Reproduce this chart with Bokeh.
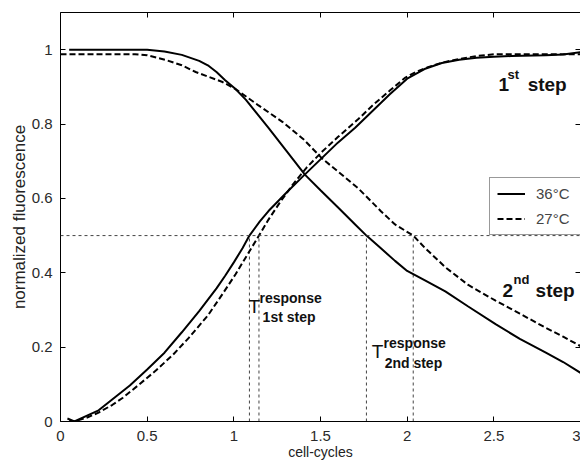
from bokeh.plotting import figure
from bokeh.models import Legend, LegendItem, LinearAxis, FixedTicker, Span, Range1d
from bokeh.core.properties import value
from bokeh.embed import file_html
from bokeh.resources import INLINE

# ---- data ----
# 1st step (rising) 36 C, solid
x_rise_36 = [0.04, 0.08, 0.15, 0.22, 0.30, 0.40, 0.50, 0.60, 0.70, 0.80, 0.90, 0.95, 1.00,
             1.05, 1.09, 1.15, 1.20, 1.30, 1.40, 1.50, 1.60, 1.70, 1.80, 1.90, 2.00, 2.10, 2.20,
             2.30, 2.40, 2.50, 2.60, 2.80, 2.90, 3.00]
y_rise_36 = [0.008, 0.0, 0.015, 0.03, 0.06, 0.097, 0.14, 0.185, 0.24, 0.297, 0.358, 0.392, 0.428,
             0.466, 0.50, 0.538, 0.566, 0.614, 0.66, 0.705, 0.75, 0.79, 0.835, 0.88, 0.922, 0.948,
             0.964, 0.973, 0.978, 0.981, 0.983, 0.985, 0.987, 0.993]
# 1st step (rising) 27 C, dashed
x_rise_27 = [0.05, 0.08, 0.15, 0.22, 0.30, 0.36, 0.45, 0.55, 0.65, 0.74, 0.85, 0.935, 1.01,
             1.08, 1.145, 1.20, 1.27, 1.34, 1.42, 1.51, 1.60, 1.72, 1.80, 1.90, 1.99, 2.05,
             2.12, 2.20, 2.30, 2.40, 2.51, 2.70, 3.00]
y_rise_27 = [0.002, 0.0, 0.01, 0.024, 0.045, 0.064, 0.098, 0.137, 0.18, 0.225, 0.285, 0.343, 0.396,
             0.45, 0.50, 0.543, 0.592, 0.637, 0.683, 0.726, 0.765, 0.814, 0.85, 0.89, 0.925, 0.94,
             0.953, 0.965, 0.975, 0.983, 0.988, 0.988, 0.988]
# 2nd step (falling) 36 C, solid
x_fall_36 = [0.05, 0.50, 0.60, 0.70, 0.80, 0.85, 0.90, 0.95, 1.01, 1.07, 1.20, 1.30, 1.41,
             1.50, 1.60, 1.70, 1.765, 1.85, 1.93, 2.00, 2.10, 2.22, 2.35, 2.51, 2.65,
             2.80, 2.90, 3.00]
y_fall_36 = [1.0, 1.0, 0.995, 0.986, 0.97, 0.958, 0.94, 0.918, 0.894, 0.865, 0.79, 0.73, 0.664,
             0.622, 0.576, 0.53, 0.50, 0.465, 0.432, 0.405, 0.38, 0.35, 0.31, 0.262, 0.222,
             0.185, 0.16, 0.131]
# 2nd step (falling) 27 C, dashed
x_fall_27 = [0.0, 0.43, 0.50, 0.61, 0.70, 0.78, 0.935, 1.01, 1.14, 1.28, 1.40, 1.51, 1.62,
             1.72, 1.85, 1.93, 2.035, 2.10, 2.22, 2.35, 2.51, 2.65, 2.80, 2.90, 3.00]
y_fall_27 = [0.988, 0.988, 0.985, 0.972, 0.958, 0.94, 0.913, 0.894, 0.851, 0.806, 0.76, 0.707, 0.665,
             0.626, 0.565, 0.53, 0.50, 0.468, 0.415, 0.368, 0.325, 0.29, 0.252, 0.228, 0.203]

half_level = 0.5
t_response = [1.09, 1.145, 1.765, 2.035]
x_ticks = [0, 0.5, 1, 1.5, 2, 2.5, 3]
y_ticks = [0, 0.2, 0.4, 0.6, 0.8, 1]
legend_labels = ["36°C", "27°C"]

FONT = "Liberation Sans"

p = figure(width=580, height=463, x_range=Range1d(0, 3), y_range=Range1d(0, 1.1),
           output_backend="svg", toolbar_location=None,
           min_border_left=60, min_border_right=0, min_border_top=12, min_border_bottom=42)
p.grid.visible = False
p.outline_line_color = None
p.background_fill_color = "white"
p.border_fill_color = "white"


def style_axis(ax, ticks, labels=True):
    ax.ticker = FixedTicker(ticks=ticks)
    ax.major_tick_in = 5
    ax.major_tick_out = 0
    ax.minor_tick_line_color = None
    ax.axis_line_color = "black"
    ax.axis_line_width = 1
    ax.major_tick_line_color = "black"
    ax.major_label_text_font = FONT
    if labels:
        ax.major_label_text_font_size = "15px"
        ax.major_label_text_color = "#2a2a2a"
        ax.major_label_standoff = 8
    else:
        ax.major_label_text_font_size = "1px"
        ax.major_label_text_alpha = 0
        ax.major_label_standoff = 0


style_axis(p.xaxis[0], x_ticks)
style_axis(p.yaxis[0], y_ticks)
p.xaxis[0].axis_label = "cell-cycles"
p.yaxis[0].axis_label = "normalized fluorescence"
for ax in (p.xaxis[0], p.yaxis[0]):
    ax.axis_label_text_font = FONT
    ax.axis_label_text_font_style = "normal"
    ax.axis_label_text_color = "#222222"
    ax.axis_label_standoff = 0
p.xaxis[0].major_label_standoff = 9
p.xaxis[0].axis_label_text_font_size = "14px"
p.yaxis[0].axis_label_text_font_size = "17px"

top_ax = LinearAxis()
style_axis(top_ax, x_ticks, labels=False)
p.add_layout(top_ax, "above")
right_ax = LinearAxis()
style_axis(right_ax, y_ticks, labels=False)
p.add_layout(right_ax, "right")

# reference lines
p.add_layout(Span(location=half_level, dimension="width", line_color="#444444",
                  line_width=1, line_dash="3 3"))
p.segment(x0=t_response, y0=[0] * len(t_response), x1=t_response,
          y1=[half_level] * len(t_response), line_color="#444444", line_width=1, line_dash="3 3")

# curves
r36 = p.line(x_rise_36, y_rise_36, line_color="black", line_width=2)
r27 = p.line(x_rise_27, y_rise_27, line_color="black", line_width=2, line_dash="6 3")
p.line(x_fall_36, y_fall_36, line_color="black", line_width=2)
p.line(x_fall_27, y_fall_27, line_color="black", line_width=2, line_dash="6 3")

# annotations
p.text(x=[2.527, 2.695, 2.55, 2.741], y=[0.9076, 0.9076, 0.351, 0.351],
       text=["1", "step", "2", "step"], text_font=value(FONT), text_font_style="bold",
       text_font_size="19px", text_baseline="alphabetic", text_align="left", text_color="#111111")
p.text(x=[2.579, 2.614], y=[0.934, 0.383], text=["st", "nd"], text_font=value(FONT),
       text_font_style="bold", text_font_size="13px", text_baseline="alphabetic",
       text_align="left", text_color="#111111")
p.text(x=[1.085, 1.795], y=[0.3106, 0.187], text=["T", "T"], text_font=value(FONT),
       text_font_size="19px", text_baseline="alphabetic", text_align="left", text_color="#111111")
p.text(x=[1.148, 1.864], y=[0.332, 0.2115], text=["response", "response"], text_font=value(FONT),
       text_font_style="bold", text_font_size="14px", text_baseline="alphabetic",
       text_align="left", text_color="#111111")
p.text(x=[1.166, 1.87], y=[0.28, 0.157], text=["1st step", "2nd step"], text_font=value(FONT),
       text_font_style="bold", text_font_size="14px", text_baseline="alphabetic",
       text_align="left", text_color="#111111")

legend = Legend(items=[LegendItem(label=legend_labels[0], renderers=[r36]),
                       LegendItem(label=legend_labels[1], renderers=[r27])],
                location=(429, 186), margin=0, padding=7, spacing=8,
                glyph_width=28, glyph_height=15, label_height=15, label_width=70,
                label_standoff=11, border_line_color="#333333", border_line_width=1,
                background_fill_color="white", background_fill_alpha=1,
                label_text_font=FONT, label_text_font_size="15px", label_text_color="#444444")
p.add_layout(legend)

open("out.html", "w").write(file_html(p, INLINE))
